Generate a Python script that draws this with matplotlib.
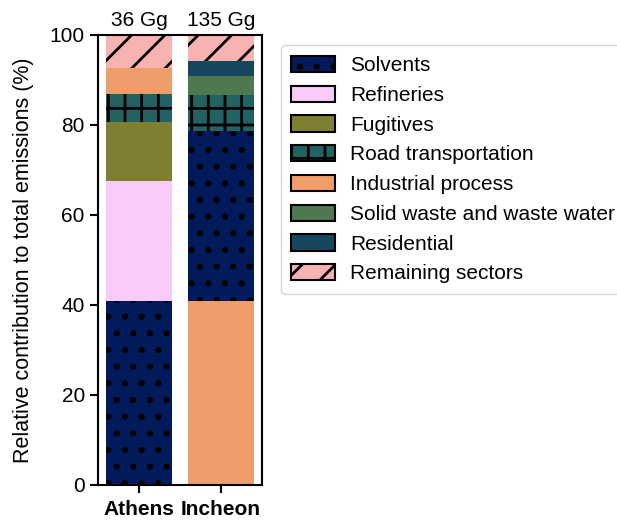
import numpy as np
import matplotlib
matplotlib.use("Agg")
import matplotlib.pyplot as plt
from matplotlib.patches import Patch

plt.rcParams['font.family'] = ['Liberation Sans', 'DejaVu Sans']
plt.rcParams['hatch.linewidth'] = 2.0

# ------------------------------------------------------------
#  data (percent contribution per sector)
# ------------------------------------------------------------
cities = ["Athens", "Incheon"]
totals = ["36 Gg", "135 Gg"]

sectors = ["Solvents", "Refineries", "Fugitives", "Road transportation",
           "Industrial process", "Solid waste and waste water",
           "Residential", "Remaining sectors"]

solvents    = [41.0, 37.7]
refineries  = [26.6, 0.0]
fugitives   = [13.0, 0.0]
road        = [6.3, 8.0]
industrial  = [5.8, 41.0]
solid_waste = [0.0, 4.2]
residential = [0.0, 3.3]
remaining   = [7.3, 5.8]

# order in which the pieces are stacked (bottom -> top) per city
stack_athens  = ["Solvents", "Refineries", "Fugitives", "Road transportation",
                 "Industrial process", "Remaining sectors"]
stack_incheon = ["Industrial process", "Solvents", "Road transportation",
                 "Solid waste and waste water", "Residential", "Remaining sectors"]

colors = ["#001a5c", "#f8caf8", "#7f7f32", "#226262",
          "#f09d6c", "#4d7850", "#17475f", "#f8b2b2"]
hatches = [".", "", "", "+", "", "", "", "/"]

values = dict(zip(sectors, [solvents, refineries, fugitives, road,
                            industrial, solid_waste, residential, remaining]))
style = {s: (c, h) for s, c, h in zip(sectors, colors, hatches)}

# ------------------------------------------------------------
fig = plt.figure(figsize=(6.17, 5.2), dpi=100)
ax = fig.add_axes([98/617, 35/520, 164/617, 450/520])

x = np.arange(len(cities))
width = 0.8

for i, order in enumerate([stack_athens, stack_incheon]):
    bottom = 0.0
    for s in order:
        v = values[s][i]
        c, h = style[s]
        ax.bar(x[i], v, width, bottom=bottom, color=c, hatch=h,
               edgecolor="black", linewidth=0)
        bottom += v
    ax.text(x[i], 101.0, totals[i], ha="center", va="bottom", fontsize=15)

ax.set_xlim(-0.5, 1.5)
ax.set_ylim(0, 100)
ax.set_xticks(x)
ax.set_xticklabels(cities, fontsize=15, fontweight="bold")
ax.set_yticks(np.arange(0, 101, 20))
ax.tick_params(axis="y", labelsize=15, length=6, width=1.5)
ax.tick_params(axis="x", length=6, width=1.5, pad=5)
for sp in ax.spines.values():
    sp.set_linewidth(1.5)
ax.set_ylabel("Relative contribution to total emissions (%)", fontsize=15.5,
              labelpad=11)

handles = [Patch(facecolor=c, edgecolor="black", hatch=h, linewidth=1.5)
           for c, h in zip(colors, hatches)]
ax.legend(handles, sectors, loc="upper left", bbox_to_anchor=(1.05, 1.0),
          fontsize=15, handlelength=2.1, handleheight=0.82,
          handletextpad=0.75, labelspacing=0.5, borderpad=0.5)

fig.savefig("out.png", dpi=100)
